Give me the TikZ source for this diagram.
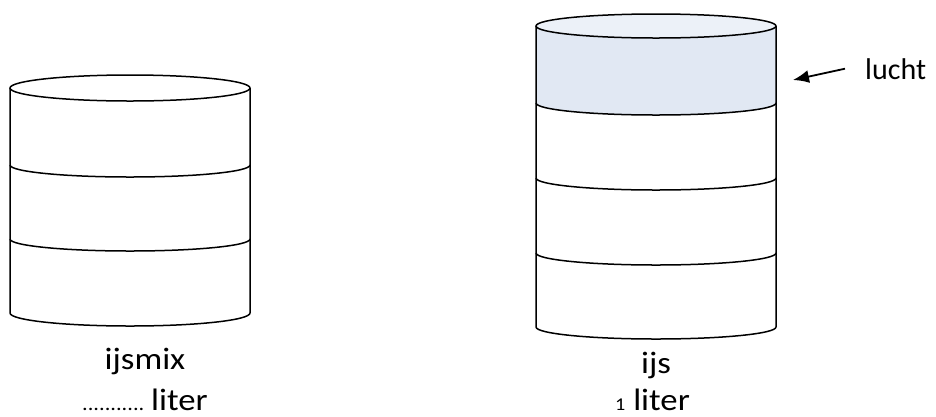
\documentclass[tikz,border=0pt]{standalone}
\usepackage{fontspec}
\setmainfont{Carlito}
\newfontfamily\widefont[FakeStretch=1.12]{Carlito}
\usetikzlibrary{arrows.meta}
\definecolor{bandblue}{HTML}{E1E8F3}
\definecolor{topblue}{HTML}{ECF1F8}
\tikzset{
  cyl/.style={line width=1.5pt, black},
  lbl/.style={inner sep=0pt, font=\widefont\fontsize{31}{36}\selectfont},
  airlbl/.style={inner sep=0pt, font=\fontsize{30}{36}\selectfont},
  pointer/.style={line width=1.8pt, -{Latex[length=16pt,width=13pt]}}
}
\begin{document}
\begin{tikzpicture}[x=1pt,y=-1pt]
\useasboundingbox (0,0) rectangle (936,416);
% ---------- left cylinder ----------
\draw[cyl] (10,88) -- (10,313) arc[start angle=180,end angle=360,x radius=120pt,y radius=13pt] -- (250,88);
\draw[cyl] (130,88) ellipse[x radius=120pt,y radius=13pt];
\draw[cyl] (10,165) arc[start angle=180,end angle=360,x radius=120pt,y radius=12pt];
\draw[cyl] (10,239) arc[start angle=180,end angle=360,x radius=120pt,y radius=12pt];
% ---------- right cylinder ----------
\fill[bandblue] (536,26) arc[start angle=180,end angle=0,x radius=120pt,y radius=12pt] -- (776,103) arc[start angle=360,end angle=180,x radius=120pt,y radius=12pt] -- cycle;
\fill[topblue] (656,26) ellipse[x radius=120pt,y radius=12pt];
\draw[cyl] (536,26) -- (536,327) arc[start angle=180,end angle=360,x radius=120pt,y radius=12pt] -- (776,26);
\draw[cyl] (656,26) ellipse[x radius=120pt,y radius=12pt];
\draw[cyl] (536,103) arc[start angle=180,end angle=360,x radius=120pt,y radius=12pt];
\draw[cyl] (536,178) arc[start angle=180,end angle=360,x radius=120pt,y radius=12pt];
\draw[cyl] (536,253) arc[start angle=180,end angle=360,x radius=120pt,y radius=12pt];
% ---------- labels ----------
\node[lbl, anchor=base] (ijsmix) at (145,369) {ijsmix};
\node[lbl, anchor=base west] (lliter) at (82,410) {{\fontsize{20}{24}\selectfont ........... }liter};
\node[lbl, anchor=base] (ijs) at (656,373) {ijs};
\node[lbl, anchor=base west] (rliter) at (615,410) {{\fontsize{18}{20}\selectfont 1} liter};
\node[airlbl, anchor=base west] (lucht) at (865,79) {lucht};
\coordinate (airtip) at (793,80);
\draw[pointer] ([xshift=-20pt]lucht.west) -- (airtip);
\end{tikzpicture}
\end{document}
